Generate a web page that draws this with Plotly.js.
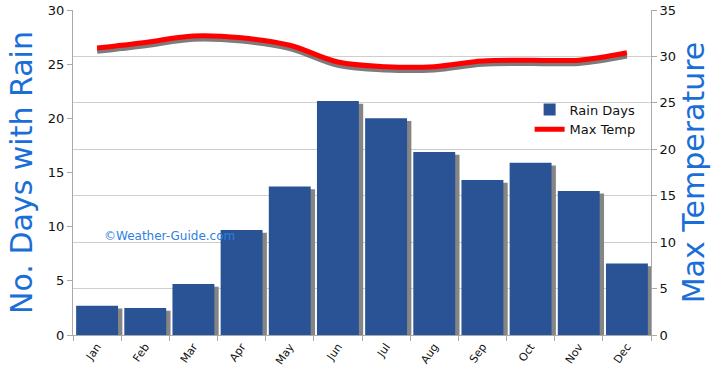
<!DOCTYPE html>
<html>
<head>
<meta charset="utf-8">
<script src="https://cdn.plot.ly/plotly-3.0.1.min.js"></script>
<style>html,body{margin:0;padding:0;background:#fff;}#chart{width:720px;height:386px;}</style>
</head>
<body>
<div id="chart"></div>
<script>
const months = ["Jan","Feb","Mar","Apr","May","Jun","Jul","Aug","Sep","Oct","Nov","Dec"];
const rainDays = [2.7, 2.5, 4.7, 9.7, 13.7, 21.6, 20.0, 16.9, 14.3, 15.9, 13.3, 6.6];
const maxTemp = [30.9, 31.5, 32.2, 32.0, 31.2, 29.4, 28.9, 28.9, 29.5, 29.6, 29.6, 30.4];
const leftTicks = [0, 5, 10, 15, 20, 25, 30];
const rightTicks = [0, 5, 10, 15, 20, 25, 30, 35];

const barW = 0.87;
const tickFont = {family: "DejaVu Sans, Verdana, sans-serif", size: 13, color: "#111"};
const titleFont = {family: "DejaVu Sans, sans-serif", size: 30, color: "#1a6ed8"};

const traces = [
  { // bar shadow
    type: "bar", x: months, y: rainDays, xaxis: "x", yaxis: "y",
    width: barW, offset: -barW/2 + 0.09, base: -0.25,
    marker: {color: "#858585"}, showlegend: false, hoverinfo: "skip"
  },
  {
    type: "bar", name: "Rain Days", x: months, y: rainDays, xaxis: "x", yaxis: "y",
    width: barW, offset: -barW/2,
    marker: {color: "#2a5396", line: {width: 0}}
  },
  { // line shadow
    type: "scatter", mode: "lines", x: months, y: maxTemp, xaxis: "x", yaxis: "y2",
    line: {color: "#444", width: 5, shape: "spline", smoothing: 1},
    opacity: 0.7, showlegend: false, hoverinfo: "skip"
  },
  {
    type: "scatter", mode: "lines", name: "Max Temp", x: months, y: maxTemp, xaxis: "x", yaxis: "y3",
    line: {color: "#ff0000", width: 5, shape: "spline", smoothing: 1}
  }
];

const layout = {
  width: 720, height: 386,
  margin: {l: 73, r: 69, t: 10, b: 51},
  paper_bgcolor: "#fff", plot_bgcolor: "#fff",
  barmode: "overlay",
  showlegend: true,
  legend: {x: 0.79, y: 0.74, xanchor: "left", yanchor: "top", bgcolor: "rgba(0,0,0,0)",
           font: {family: "DejaVu Sans, sans-serif", size: 13, color: "#111"}, tracegroupgap: 4,
           itemwidth: 30},
  xaxis: {
    type: "category", range: [-0.5, 11.5], tickangle: -55,
    tickfont: {family: "DejaVu Sans, sans-serif", size: 11, color: "#111"},
    showgrid: false, showline: true, linecolor: "#aaa", linewidth: 1,
    ticks: "outside", tickson: "boundaries", ticklen: 5, tickcolor: "#aaa",
    fixedrange: true
  },
  yaxis: {
    range: [0, 30], tickvals: leftTicks, ticktext: leftTicks.map(String),
    tickfont: tickFont, showgrid: false, zeroline: false,
    showline: true, linecolor: "#aaa", ticks: "outside", ticklen: 5, tickcolor: "#aaa",
    title: {text: "No. Days with Rain", font: titleFont, standoff: 6}
  },
  yaxis2: {
    overlaying: "y", range: [0.35, 35.35], visible: false, showgrid: false
  },
  yaxis3: {
    overlaying: "y", side: "right", range: [0, 35], tickvals: rightTicks, ticktext: rightTicks.map(String),
    tickfont: tickFont, showgrid: true, gridcolor: "#cfcfcf", gridwidth: 1, zeroline: false,
    showline: true, linecolor: "#aaa", ticks: "outside", ticklen: 5, tickcolor: "#aaa",
    title: {text: "Max Temperature", font: titleFont, standoff: 6}
  },
  annotations: [{
    xref: "paper", yref: "paper", x: 0.05, y: 0.305, xanchor: "left", yanchor: "middle",
    text: "©Weather-Guide.com", showarrow: false,
    font: {family: "DejaVu Sans, sans-serif", size: 12, color: "#2f7fe0"}
  }]
};

Plotly.newPlot("chart", traces, layout, {displayModeBar: false, staticPlot: true});
</script>
</body>
</html>
